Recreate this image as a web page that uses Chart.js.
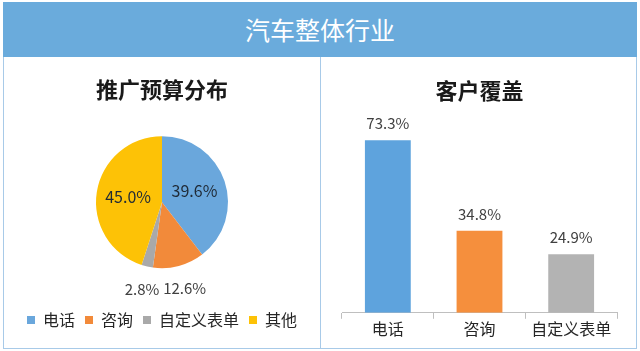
<!DOCTYPE html>
<html>
<head>
<meta charset="utf-8">
<script src="https://cdn.jsdelivr.net/npm/chart.js@4.4.0/dist/chart.umd.min.js"></script>
<style>
body { margin: 0; width: 640px; height: 351px; background: #fff; position: relative; overflow: hidden; font-family: "Noto Sans CJK SC", sans-serif; }
#head { position: absolute; left: 3px; top: 2px; width: 634px; height: 55px; background: #6aabdc; color: #fff; font-size: 25px; text-align: center; line-height: 55px; }
#box { position: absolute; left: 3px; top: 57px; width: 632px; height: 291px; border: 1px solid #a8cae8; border-top: none; }
#divider { position: absolute; left: 320px; top: 57px; width: 1px; height: 291px; background: #a8cae8; }
canvas { position: absolute; }
#pie { left: 4px; top: 58px; }
#bar { left: 321px; top: 58px; }
</style>
</head>
<body>
<div id="head">汽车整体行业</div>
<div id="box"></div>
<div id="divider"></div>
<canvas id="pie" width="316" height="290"></canvas>
<canvas id="bar" width="315" height="290"></canvas>
<script>
const pieLabels = ['电话', '咨询', '自定义表单', '其他'];
const pieValues = [39.6, 12.6, 2.8, 45.0];
const pieColors = ['#6aa7dc', '#f28a3a', '#a9a9a9', '#fdc206'];

const barLabels = ['电话', '咨询', '自定义表单'];
const barValues = [73.3, 34.8, 24.9];
const barColors = ['#5ea3dd', '#f58f3d', '#b3b3b3'];

const FONT = '"Noto Sans CJK SC", sans-serif';

// percentage labels on the pie
const pieLabelPlugin = {
    id: 'pieLabels',
    afterDatasetsDraw(chart) {
        const ctx = chart.ctx;
        const meta = chart.getDatasetMeta(0);
        ctx.save();
        ctx.textAlign = 'center';
        ctx.textBaseline = 'middle';
        meta.data.forEach((arc, i) => {
            const p = arc.getProps(['x', 'y', 'startAngle', 'endAngle', 'outerRadius'], true);
            const mid = (p.startAngle + p.endAngle) / 2;
            const inside = pieValues[i] > 20;
            const d = inside ? p.outerRadius * 0.52 : p.outerRadius + 23;
            ctx.font = (inside ? '16px ' : '15px ') + FONT;
            ctx.fillStyle = inside ? '#1f2a36' : '#404040';
            ctx.fillText(pieValues[i].toFixed(1) + '%', p.x + Math.cos(mid) * d, p.y + Math.sin(mid) * d);
        });
        ctx.restore();
    }
};

// value labels above the bars
const barLabelPlugin = {
    id: 'barLabels',
    afterDatasetsDraw(chart) {
        const ctx = chart.ctx;
        const meta = chart.getDatasetMeta(0);
        ctx.save();
        ctx.font = '15px ' + FONT;
        ctx.textAlign = 'center';
        ctx.textBaseline = 'middle';
        ctx.fillStyle = '#404040';
        meta.data.forEach((bar, i) => {
            ctx.fillText(barValues[i].toFixed(1) + '%', bar.x, bar.y - 17);
        });
        ctx.restore();
    }
};

new Chart(document.getElementById('pie'), {
    type: 'pie',
    data: {
        labels: pieLabels,
        datasets: [{
            data: pieValues,
            backgroundColor: pieColors,
            borderWidth: 0,
            radius: 66
        }]
    },
    options: {
        responsive: false,
        animation: false,
        layout: { padding: { top: 0, bottom: 10 } },
        plugins: {
            title: {
                display: true,
                text: '推广预算分布',
                color: '#1a1a1a',
                font: { family: FONT, size: 22, weight: 'bold' },
                padding: { top: 18, bottom: 0 }
            },
            legend: {
                position: 'bottom',
                labels: {
                    boxWidth: 8,
                    boxHeight: 8,
                    padding: 10,
                    color: '#262626',
                    font: { family: FONT, size: 16 }
                }
            },
            tooltip: { enabled: false }
        }
    },
    plugins: [pieLabelPlugin]
});

new Chart(document.getElementById('bar'), {
    type: 'bar',
    data: {
        labels: barLabels,
        datasets: [{
            data: barValues,
            backgroundColor: barColors,
            barPercentage: 0.5,
            categoryPercentage: 1
        }]
    },
    options: {
        responsive: false,
        animation: false,
        layout: { padding: { left: 21, right: 19, bottom: 8 } },
        scales: {
            x: {
                offset: true,
                grid: { display: true, drawOnChartArea: false, tickLength: 6, color: '#bfbfbf' },
                border: { color: '#bfbfbf' },
                ticks: { color: '#262626', font: { family: FONT, size: 16 }, padding: 1 }
            },
            y: { display: false, min: 0, max: 80 }
        },
        plugins: {
            title: {
                display: true,
                text: '客户覆盖',
                color: '#1a1a1a',
                font: { family: FONT, size: 22, weight: 'bold' },
                padding: { top: 19, bottom: 21 }
            },
            legend: { display: false },
            tooltip: { enabled: false }
        }
    },
    plugins: [barLabelPlugin]
});
</script>
</body>
</html>
